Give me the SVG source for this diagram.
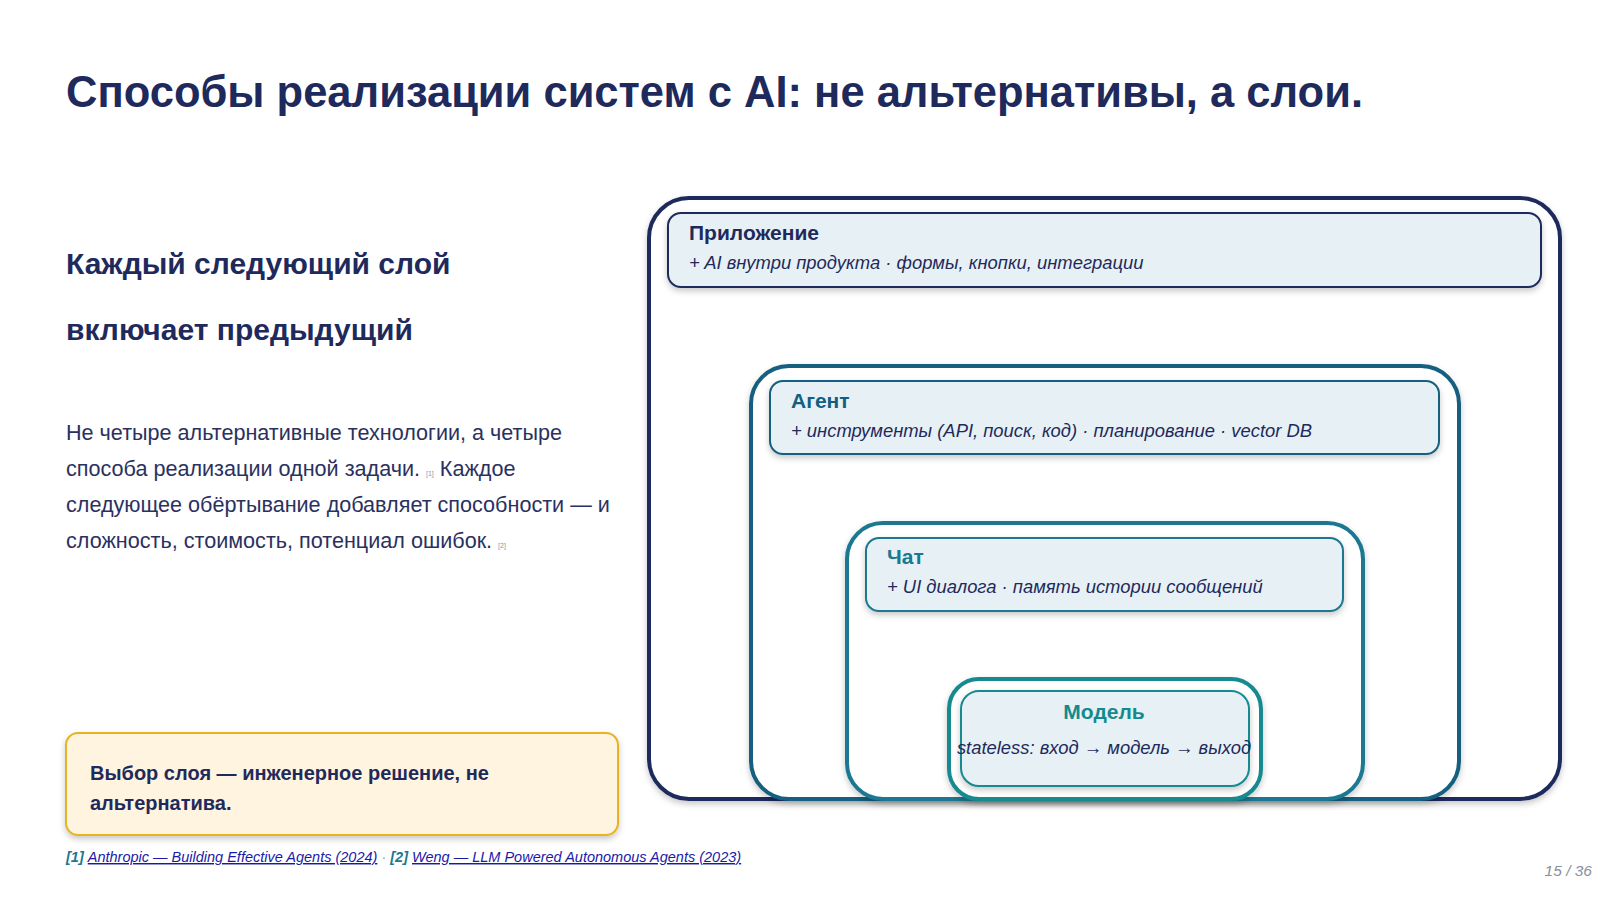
<svg xmlns="http://www.w3.org/2000/svg" width="1600" height="900" viewBox="0 0 1600 900">
<defs>
<filter id="sh" x="-5%" y="-10%" width="110%" height="130%"><feDropShadow dx="0" dy="3" stdDeviation="3" flood-color="#000" flood-opacity="0.22"/></filter>
</defs>
<style>
text{font-family:"Liberation Sans",Arial,sans-serif}
.layer{fill:#fff;stroke-width:4}
.card{stroke-width:2;filter:url(#sh)}
.h{font-weight:bold;font-size:21px}
.s{font-style:italic;font-size:18.4px;fill:#1f2a5c}
.body{font-size:21.6px;fill:#2a3160}
.ref{font-size:7px;fill:#8899aa}
.lnk{font-style:italic;font-size:14.5px;fill:#1a1aa8;text-decoration:underline}
</style>
<rect width="1600" height="900" fill="#fff"/>
<text x="66" y="107" font-size="43.5" font-weight="bold" fill="#1f2a5c">Способы реализации систем с AI: не альтернативы, а слои.</text>
<text x="66" y="274" font-size="30" font-weight="bold" fill="#1f2a5c">Каждый следующий слой</text>
<text x="66" y="340" font-size="30" font-weight="bold" fill="#1f2a5c">включает предыдущий</text>
<text class="body" x="66" y="440">Не четыре альтернативные технологии, а четыре</text>
<text class="body" x="66" y="476">способа реализации одной задачи. <tspan class="ref">[1]</tspan> Каждое</text>
<text class="body" x="66" y="512">следующее обёртывание добавляет способности — и</text>
<text class="body" x="66" y="548">сложность, стоимость, потенциал ошибок. <tspan class="ref">[2]</tspan></text>
<g id="note">
<rect x="66" y="733" width="552" height="102" rx="12" fill="#fff4df" stroke="#e6b422" stroke-width="2" filter="url(#sh)"/>
<text x="90" y="780" font-size="20" font-weight="bold" fill="#1f2a5c">Выбор слоя — инженерное решение, не</text>
<text x="90" y="810" font-size="20" font-weight="bold" fill="#1f2a5c">альтернатива.</text>
</g>
<g id="layer-app">
<rect class="layer" x="649" y="198" width="911" height="601" rx="40" stroke="#1f2a5c" filter="url(#sh)"/>
<rect class="card" x="668" y="213" width="873" height="74" rx="13" fill="#e7f1f5" stroke="#1f2a5c"/>
<text class="h" x="689" y="240" fill="#1f2a5c">Приложение</text>
<text class="s" x="689" y="269">+ AI внутри продукта · формы, кнопки, интеграции</text>
</g>
<g id="layer-agent">
<rect class="layer" x="751" y="366" width="708" height="433" rx="38" stroke="#135f7f" filter="url(#sh)"/>
<rect class="card" x="770" y="381" width="669" height="73" rx="13" fill="#e7f1f5" stroke="#135f7f"/>
<text class="h" x="791" y="408" fill="#135f7f">Агент</text>
<text class="s" x="791" y="437">+ инструменты (API, поиск, код) · планирование · vector DB</text>
</g>
<g id="layer-chat">
<rect class="layer" x="847" y="523" width="516" height="276" rx="36" stroke="#1a7890" filter="url(#sh)"/>
<rect class="card" x="866" y="538" width="477" height="73" rx="13" fill="#e7f1f5" stroke="#1a7890"/>
<text class="h" x="887" y="564" fill="#1a7890">Чат</text>
<text class="s" x="887" y="593">+ UI диалога · память истории сообщений</text>
</g>
<g id="layer-model">
<rect class="layer" x="949" y="679" width="312" height="120" rx="30" stroke="#148a8f" filter="url(#sh)"/>
<rect class="card" x="961" y="691" width="288" height="95" rx="18" fill="#e7f1f5" stroke="#148a8f"/>
<text class="h" x="1104" y="719" fill="#148a8f" text-anchor="middle">Модель</text>
<text class="s" x="1104" y="754" text-anchor="middle" font-size="15.8">stateless: вход → модель → выход</text>
</g>
<g id="connectors"/>
<text x="66" y="862" font-size="14.5" font-style="italic" font-weight="bold" fill="#1a7890">[1] <tspan class="lnk" font-weight="normal">Anthropic — Building Effective Agents (2024)</tspan> <tspan fill="#999" font-weight="normal" font-style="normal">  ·  </tspan> [2] <tspan class="lnk" font-weight="normal">Weng — LLM Powered Autonomous Agents (2023)</tspan></text>
<text x="1592" y="876" font-size="15.5" font-style="italic" fill="#8a8f99" text-anchor="end">15 / 36</text>
</svg>
